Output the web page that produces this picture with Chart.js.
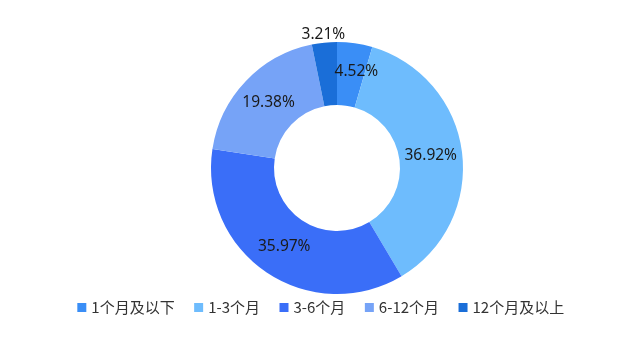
<!DOCTYPE html>
<html>
<head>
<meta charset="utf-8">
<script src="https://cdn.jsdelivr.net/npm/chart.js@4.4.0/dist/chart.umd.min.js"></script>
<style>
html,body{margin:0;padding:0;background:#fff;}
#wrap{width:625px;height:342px;position:relative;}
</style>
</head>
<body>
<div id="wrap"><canvas id="c" width="625" height="342"></canvas></div>
<script>
const categories = ['1个月及以下', '1-3个月', '3-6个月', '6-12个月', '12个月及以上'];
const shares = [4.52, 36.92, 35.97, 19.38, 3.21];
const colors = ['#3a8ef6', '#6ebcfd', '#3a6ef8', '#76a3f7', '#1a6ed8'];

const labelPlugin = {
  id: 'sliceLabels',
  afterDatasetsDraw(chart) {
    const ctx = chart.ctx;
    const meta = chart.getDatasetMeta(0);
    ctx.save();
    ctx.font = '15.5px "Noto Sans", sans-serif';
    ctx.fillStyle = '#1a1a1a';
    ctx.textAlign = 'center';
    ctx.textBaseline = 'middle';
    meta.data.forEach((arc, i) => {
      const p = arc.getProps(['x','y','startAngle','endAngle','innerRadius','outerRadius'], true);
      const mid = (p.startAngle + p.endAngle) / 2;
      const small = shares[i] < 4;
      const r = small ? p.outerRadius + 9 : (p.innerRadius + p.outerRadius) / 2;
      let x = p.x + Math.cos(mid) * r;
      let y = p.y + Math.sin(mid) * r;
      if (i === 0) { x += 6; y -= 3; }
      if (small) { y += 1; }
      ctx.fillText(shares[i].toFixed(2) + '%', x, y);
    });
    ctx.restore();
  }
};

const legendShift = {
  id: 'legendShift',
  afterLayout(chart) {
    const lg = chart.legend;
    if (lg) { lg.left -= 15; lg.right -= 15; lg.top -= 16; lg.bottom -= 16; }
  }
};

new Chart(document.getElementById('c'), {
  type: 'doughnut',
  data: {
    labels: categories,
    datasets: [{
      data: shares,
      backgroundColor: colors,
      borderWidth: 0,
      hoverOffset: 0
    }]
  },
  options: {
    responsive: false,
    animation: false,
    cutout: '50%',
    layout: { padding: { top: 42, left: 49, right: 0, bottom: 1 } },
    plugins: {
      tooltip: { enabled: false },
      legend: {
        position: 'bottom',
        labels: {
          usePointStyle: true,
          pointStyle: 'rect',
          boxHeight: 9,
          boxWidth: 4,
          padding: 22,
          color: '#333',
          font: { family: '"Noto Sans CJK SC", sans-serif', size: 15 }
        }
      }
    }
  },
  plugins: [labelPlugin, legendShift]
});
</script>
</body>
</html>
